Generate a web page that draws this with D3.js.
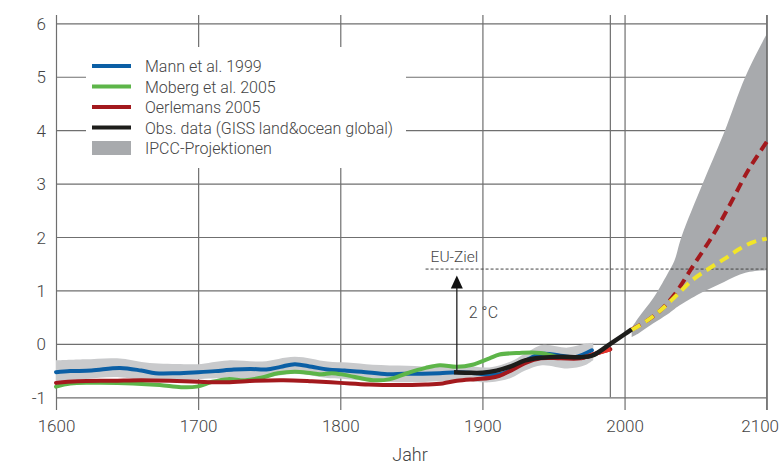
<!DOCTYPE html>
<html><head><meta charset="utf-8">
<script src="https://cdn.jsdelivr.net/npm/d3@7"></script>
<style>
html,body{margin:0;padding:0;background:#fff;}
svg{display:block;font-family:Roboto,"Liberation Sans",sans-serif;}
</style></head>
<body><svg id="chart" width="780" height="466"></svg>
<script>
// ---------- data ----------
const xTicks = [1600, 1700, 1800, 1900, 2000, 2100];
const yTicks = [-1, 0, 1, 2, 3, 4, 5, 6];
const extraGridYears = [1990];
const xLabel = "Jahr";

const legendLabels = ["Mann et al. 1999", "Moberg et al. 2005", "Oerlemans 2005",
  "Obs. data (GISS land\u0026ocean global)", "IPCC-Projektionen"];

const mannYears  = [1600,1610,1625,1645,1660,1670,1685,1700,1712,1725,1737,1748,1758,1768,1780,1791,1803,1815,1833,1845,1858,1870,1882,1895,1905,1915,1925,1941,1955,1965,1977];
const mannValues = [-0.53,-0.51,-0.50,-0.45,-0.50,-0.55,-0.55,-0.53,-0.51,-0.48,-0.47,-0.48,-0.43,-0.38,-0.43,-0.48,-0.50,-0.52,-0.57,-0.56,-0.56,-0.55,-0.53,-0.55,-0.58,-0.55,-0.40,-0.19,-0.22,-0.25,-0.12];

const mobergYears  = [1600,1610,1630,1654,1673,1688,1699,1710,1721,1733,1745,1756,1768,1780,1787,1794,1803,1823,1835,1847,1860,1870,1882,1893,1905,1912,1926,1941,1955,1970,1979];
const mobergValues = [-0.80,-0.74,-0.73,-0.74,-0.77,-0.81,-0.80,-0.71,-0.66,-0.68,-0.63,-0.55,-0.52,-0.55,-0.57,-0.55,-0.58,-0.68,-0.66,-0.55,-0.45,-0.40,-0.43,-0.39,-0.27,-0.20,-0.17,-0.17,-0.25,-0.25,-0.20];

const oerlYears  = [1600,1615,1640,1660,1680,1700,1720,1740,1760,1780,1800,1820,1840,1860,1872,1882,1895,1905,1912,1920,1930,1941,1955,1969,1980,1990];
const oerlValues = [-0.73,-0.70,-0.69,-0.68,-0.69,-0.71,-0.72,-0.69,-0.68,-0.70,-0.73,-0.76,-0.77,-0.76,-0.74,-0.69,-0.66,-0.64,-0.60,-0.50,-0.36,-0.27,-0.27,-0.27,-0.18,-0.10];
const oerlRecentFrom = 1970;

const obsYears  = [1880,1890,1900,1910,1920,1930,1941,1955,1969,1978,1990,2000,2005];
const obsValues = [-0.53,-0.54,-0.54,-0.50,-0.42,-0.31,-0.26,-0.24,-0.25,-0.21,0.00,0.18,0.27];

const bandYears = [1600,1620,1643,1666,1690,1700,1721,1745,1768,1791,1805,1823,1847,1870,1885,1905,1920,1930,1942,1960,1972,1978];
const bandUpper = [-0.31,-0.29,-0.27,-0.36,-0.38,-0.38,-0.31,-0.33,-0.24,-0.33,-0.35,-0.39,-0.41,-0.43,-0.40,-0.44,-0.33,-0.18,-0.02,-0.07,0.00,0.02];
const bandLower = [-0.70,-0.66,-0.62,-0.70,-0.68,-0.66,-0.64,-0.64,-0.56,-0.64,-0.66,-0.70,-0.72,-0.70,-0.68,-0.72,-0.64,-0.50,-0.40,-0.46,-0.40,-0.30];

const ipccYears = [2005,2010,2020,2030,2035,2040,2055,2070,2085,2100];
const ipccUpper = [0.30,0.50,0.85,1.30,1.55,2.00,3.00,3.95,5.00,5.80];
const ipccLower = [0.13,0.20,0.38,0.55,0.65,0.74,0.97,1.16,1.33,1.38];

const highYears  = [2005,2015,2025,2035,2048,2063,2075,2087,2100];
const highValues = [0.27,0.42,0.62,0.92,1.45,2.07,2.65,3.25,3.78];

const lowYears  = [2005,2015,2025,2037,2048,2060,2072,2081,2091,2100];
const lowValues = [0.26,0.42,0.62,0.92,1.20,1.42,1.62,1.78,1.91,1.97];

const euTargetValue = 1.4;
const euTargetStart = 1860;
const euLabel = "EU-Ziel";
const arrowYear = 1882;
const arrowFrom = -0.53;
const arrowTo = 1.28;
const arrowLabel = "2 \u00B0C";

// ---------- drawing ----------
const W = 780;
const svg = d3.select("#chart");
const x = d3.scaleLinear().domain([1600, 2100]).range([56, 766.7]);
const y = d3.scaleLinear().domain([-1, 6]).range([397.3, 23.3]);
const gridColor = "#6f6f6f";
const textColor = "#444";
const curve = d3.curveCatmullRom.alpha(0.5);
const pts = (ys, vs) => ys.map((yr, i) => [yr, vs[i]]);
const line = d3.line().x(d => x(d[0])).y(d => y(d[1])).curve(curve);

// axes / grid
const xAxis = svg.append("g").attr("transform", "translate(0,410)")
  .call(d3.axisBottom(x).tickValues(xTicks).tickFormat(d3.format("d"))
    .tickSize(-(410 - 15)).tickPadding(10));
const yAxis = svg.append("g").attr("transform", "translate(56,0)")
  .call(d3.axisLeft(y).tickValues(yTicks).tickFormat(d => d < 0 ? "-" + Math.abs(d) : d)
    .tickSize(-(x(2100) - x(1600))).tickPadding(10));
[xAxis, yAxis].forEach(g => {
  g.select(".domain").remove();
  g.selectAll(".tick line").attr("stroke", gridColor).attr("stroke-width", 1.2);
  g.selectAll(".tick text").attr("fill", textColor).attr("font-size", 17)
    .attr("font-family", "Roboto, sans-serif").attr("font-weight", 300);
});
yAxis.selectAll(".tick text").attr("dy", "0.36em");
// keep the last x label inside the picture
xAxis.selectAll(".tick text").each(function() {
  const bb = this.getBBox();
  const tx = +this.parentNode.getAttribute("transform").match(/translate\(([-\d.]+)/)[1];
  const over = tx + bb.x + bb.width - (W - 1);
  if (over > 0) d3.select(this).attr("x", -over);
});

svg.append("g").selectAll("line").data(extraGridYears).join("line")
  .attr("x1", d => x(d)).attr("x2", d => x(d))
  .attr("y1", 15).attr("y2", y(-1))
  .attr("stroke", gridColor).attr("stroke-width", 1.2);

svg.append("text").attr("x", 410).attr("y", 461).attr("text-anchor", "middle")
  .attr("fill", textColor).attr("font-size", 18).attr("font-weight", 300).text(xLabel);

// reconstruction uncertainty band
const bandData = bandYears.map((yr, i) => [yr, bandLower[i], bandUpper[i]]);
svg.append("path").datum(bandData)
  .attr("d", d3.area().x(d => x(d[0])).y0(d => y(d[1])).y1(d => y(d[2])).curve(curve))
  .attr("fill", "#c9cacc");

// IPCC projection area
const ipccData = ipccYears.map((yr, i) => [yr, ipccLower[i], ipccUpper[i]]);
svg.append("path").datum(ipccData)
  .attr("d", d3.area().x(d => x(d[0])).y0(d => y(d[1])).y1(d => y(d[2])).curve(curve))
  .attr("fill", "#a8aaad");
// right frame line over area
svg.append("line").attr("x1", x(2100)).attr("x2", x(2100)).attr("y1", 15).attr("y2", 410)
  .attr("stroke", gridColor).attr("stroke-width", 1.2);

// EU target line
svg.append("line").attr("x1", x(euTargetStart)).attr("x2", x(2100))
  .attr("y1", y(euTargetValue)).attr("y2", y(euTargetValue))
  .attr("stroke", "#444").attr("stroke-width", 1).attr("stroke-dasharray", "3,2");
svg.append("text").attr("x", x(euTargetStart) + 5).attr("y", y(euTargetValue) - 7)
  .attr("fill", textColor).attr("font-size", 15.5).attr("font-weight", 300).text(euLabel);

// projections
svg.append("path").datum(pts(highYears, highValues)).attr("d", line)
  .attr("fill", "none").attr("stroke", "#a3191d").attr("stroke-width", 4)
  .attr("stroke-dasharray", "10,6");
svg.append("path").datum(pts(lowYears, lowValues)).attr("d", line)
  .attr("fill", "none").attr("stroke", "#f2e528").attr("stroke-width", 4)
  .attr("stroke-dasharray", "10,6");

// reconstructions
const series = [
  {ys: mannYears, vs: mannValues, c: "#0b5fa5", w: 4},
  {ys: mobergYears, vs: mobergValues, c: "#5db549", w: 4},
  {ys: oerlYears, vs: oerlValues, c: "#a3191d", w: 4}
];
series.forEach(s => {
  svg.append("path").datum(pts(s.ys, s.vs)).attr("d", line)
    .attr("fill", "none").attr("stroke", s.c).attr("stroke-width", s.w)
    .attr("stroke-linecap", "round");
});
const oerlRecent = pts(oerlYears, oerlValues).filter(d => d[0] >= oerlRecentFrom - 1);
svg.append("path").datum(oerlRecent).attr("d", line)
  .attr("fill", "none").attr("stroke", "#e8332a").attr("stroke-width", 4);

// observations
svg.append("path").datum(pts(obsYears, obsValues)).attr("d", line)
  .attr("fill", "none").attr("stroke", "#1d1d1b").attr("stroke-width", 4.5);

// arrow
svg.append("line").attr("x1", x(arrowYear)).attr("x2", x(arrowYear))
  .attr("y1", y(arrowFrom)).attr("y2", y(arrowTo) + 12)
  .attr("stroke", "#222").attr("stroke-width", 1.3);
const ax = x(arrowYear), ay = y(arrowTo);
svg.append("path").attr("d", `M${ax},${ay} L${ax - 6},${ay + 13} L${ax + 6},${ay + 13} Z`).attr("fill", "#111");
svg.append("text").attr("x", ax + 12).attr("y", (y(arrowFrom) + y(arrowTo)) / 2 - 6)
  .attr("fill", textColor).attr("font-size", 16).attr("font-weight", 300).text(arrowLabel);

// legend
const lg = svg.append("g");
lg.append("rect").attr("x", 86).attr("y", 47).attr("width", 320).attr("height", 121).attr("fill", "#fff");
const legendColors = ["#0b5fa5", "#5db549", "#a3191d", "#1d1d1b", "#a8aaad"];
legendLabels.forEach((lab, i) => {
  const cy = 66 + i * 20.5;
  if (i < 4) {
    lg.append("line").attr("x1", 92).attr("x2", 131).attr("y1", cy).attr("y2", cy)
      .attr("stroke", legendColors[i]).attr("stroke-width", 4);
  } else {
    lg.append("rect").attr("x", 92).attr("y", cy - 7).attr("width", 39).attr("height", 14)
      .attr("fill", legendColors[i]);
  }
  lg.append("text").attr("x", 145).attr("y", cy + 6).attr("fill", textColor)
    .attr("font-size", 16).attr("font-weight", 300).text(lab);
});
</script></body></html>
